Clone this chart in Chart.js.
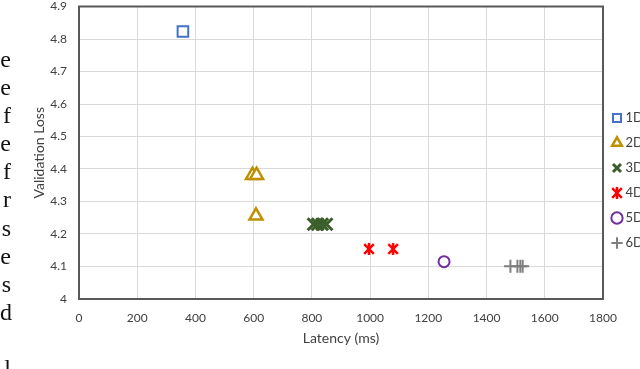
<!DOCTYPE html>
<html>
<head>
<meta charset="utf-8">
<script src="https://cdn.jsdelivr.net/npm/chart.js@4"></script>
<style>
  html, body { margin: 0; padding: 0; background: #fff; overflow: hidden; }
  #wrap { position: relative; width: 640px; height: 369px; overflow: hidden; }
  #side {
    position: absolute; left: 0; top: 45px; width: 11px;
    font-family: "Liberation Serif", serif; font-size: 24px; line-height: 28.1px;
    text-align: right; color: #111; white-space: pre;
  }
  canvas { position: absolute; left: 0; top: -5px; }
</style>
</head>
<body>
<div id="wrap">
  <canvas id="myChart" width="640" height="374"></canvas>
  <div id="side">e
e
f
e
f
r
s
e
s
d

l</div>
</div>
<script>
// values
var seriesLabels = ['1D', '2D', '3D', '4D', '5D', '6D'];
var latency1D = [357];
var loss1D = [4.823];
var latency2D = [596, 610, 608];
var loss2D = [4.381, 4.381, 4.256];
var latency3D = [806, 820, 835, 850];
var loss3D = [4.230, 4.230, 4.230, 4.230];
var latency4D = [996, 1079];
var loss4D = [4.154, 4.154];
var latency5D = [1254];
var loss5D = [4.115];
var latency6D = [1482, 1506, 1516, 1524];
var loss6D = [4.101, 4.101, 4.101, 4.101];

var xTicks = [0, 200, 400, 600, 800, 1000, 1200, 1400, 1600, 1800];
var yTicks = [4, 4.1, 4.2, 4.3, 4.4, 4.5, 4.6, 4.7, 4.8, 4.9];

function pts(xs, ys) {
  return xs.map(function (x, i) { return { x: x, y: ys[i] }; });
}

// six-armed asterisk like the spreadsheet marker
function asterisk(size, color, lw) {
  var c = document.createElement('canvas');
  c.width = size; c.height = size;
  var g = c.getContext('2d'), m = size / 2, r = size / 2 - 1;
  g.strokeStyle = color; g.lineWidth = lw; g.lineCap = 'butt';
  g.beginPath();
  g.moveTo(m, m - r); g.lineTo(m, m + r);
  g.moveTo(m - r * 0.8, m - r * 0.8); g.lineTo(m + r * 0.8, m + r * 0.8);
  g.moveTo(m + r * 0.8, m - r * 0.8); g.lineTo(m - r * 0.8, m + r * 0.8);
  g.stroke();
  return c;
}

function series(label, xs, ys, style, color, fill, radius, width) {
  return {
    label: label,
    data: pts(xs, ys),
    pointStyle: style,
    borderColor: color,
    backgroundColor: fill,
    pointRadius: radius,
    pointHoverRadius: radius,
    borderWidth: width,
    pointBorderWidth: width,
    pointHoverBorderWidth: width
  };
}

// dark frame around the plot area
var frame = {
  id: 'frame',
  beforeDatasetsDraw: function (chart) {
    var a = chart.chartArea, c = chart.ctx;
    c.save();
    c.strokeStyle = '#595959';
    c.lineWidth = 2;
    c.strokeRect(a.left, a.top, a.right - a.left, a.bottom - a.top);
    c.restore();
  }
};

// keep the legend narrow so the plot reaches x=603
var legendWidth = {
  id: 'legendWidth',
  beforeLayout: function (chart) {
    var lg = chart.legend;
    if (lg && !lg._narrow) {
      var fit = lg.fit.bind(lg);
      lg.fit = function () { fit(); this.width = 37; };
      lg._narrow = true;
    }
  }
};

var ctx = document.getElementById('myChart').getContext('2d');

var chart = new Chart(ctx, {
  type: 'scatter',
  data: {
    datasets: [
      series(seriesLabels[0], latency1D, loss1D, 'rect', '#4472C4', '#ffffff', 7.5, 2),
      series(seriesLabels[1], latency2D, loss2D, 'triangle', '#BF9000', '#ffffff', 7.5, 2.5),
      series(seriesLabels[2], latency3D, loss3D, 'crossRot', '#3B5E2B', '#3B5E2B', 8.5, 3),
      series(seriesLabels[3], latency4D, loss4D, asterisk(14, '#FF0000', 2.5), '#FF0000', '#FF0000', 7, 2.5),
      series(seriesLabels[4], latency5D, loss5D, 'circle', '#7030A0', '#ffffff', 5.5, 2),
      series(seriesLabels[5], latency6D, loss6D, 'cross', '#7F7F7F', '#7F7F7F', 6.5, 2)
    ]
  },
  options: {
    responsive: false,
    animation: false,
    layout: { padding: { top: 1, left: 0, right: 0, bottom: 4 } },
    plugins: {
      tooltip: { enabled: false },
      legend: {
        position: 'right',
        align: 'center',
        labels: {
          usePointStyle: true,
          boxWidth: 4,
          boxHeight: 8,
          padding: 12,
          color: '#404040',
          font: { family: 'Lato', size: 13 }
        }
      }
    },
    scales: {
      x: {
        type: 'linear',
        min: 0,
        max: 1800,
        afterBuildTicks: function (s) { s.ticks = xTicks.map(function (v) { return { value: v }; }); },
        afterFit: function (s) { s.height = 66; s.paddingLeft = 0; s.paddingRight = 0; },
        grid: { color: '#D9D9D9', drawTicks: false },
        border: { display: false },
        ticks: {
          color: '#404040', padding: 12, font: { family: 'Lato', size: 12 }, maxRotation: 0,
          callback: function (v) { return String(v); }
        },
        title: {
          display: true,
          text: 'Latency (ms)',
          color: '#404040',
          font: { family: 'Lato', size: 14 },
          padding: { top: 4, bottom: 18 }
        }
      },
      y: {
        type: 'linear',
        min: 4,
        max: 4.9,
        afterBuildTicks: function (s) { s.ticks = yTicks.map(function (v) { return { value: v }; }); },
        afterFit: function (s) { s.width = 79; s.paddingTop = 0; s.paddingBottom = 0; },
        grid: { color: '#D9D9D9', drawTicks: false },
        border: { display: false },
        ticks: {
          color: '#404040',
          padding: 12,
          font: { family: 'Lato', size: 12 },
          callback: function (v) { return String(Math.round(v * 10) / 10); }
        },
        title: {
          display: true,
          text: 'Validation Loss',
          color: '#404040',
          font: { family: 'Lato', size: 14 },
          padding: { top: 31, bottom: 4 }
        }
      }
    }
  },
  plugins: [frame, legendWidth]
});
</script>
</body>
</html>
